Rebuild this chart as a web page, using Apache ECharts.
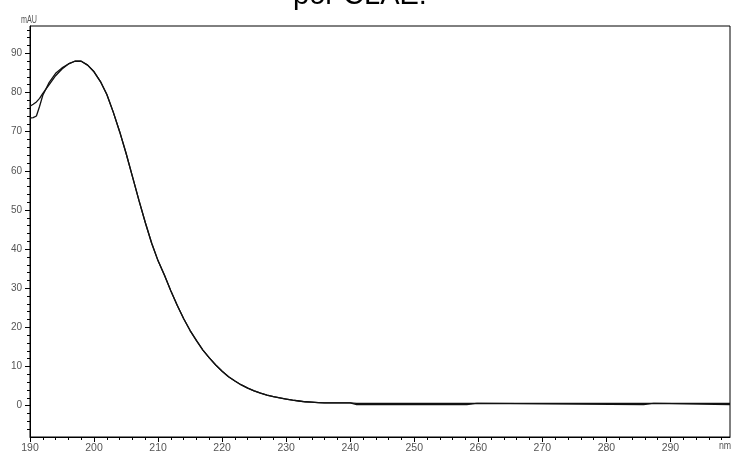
<!DOCTYPE html>
<html>
<head>
<meta charset="utf-8">
<script src="https://cdn.jsdelivr.net/npm/echarts@6/dist/echarts.min.js"></script>
<style>
html,body{margin:0;padding:0;background:#fff;}
#chart{width:733px;height:459px;}
</style>
</head>
<body>
<div id="chart"></div>
<script>
// Wavelengths (nm)
var wl = [190,190.5,191,191.5,192,193,194,195,196,197,198,199,200,201,202,203,204,205,206,207,208,209,210,
  211,212,213,214,215,216,217,218,219,220,221,222,223,224,225,226,227,228,229,230,231,232,233,234,235,236,237,238,239,240,
  241,258.2,258.4,259.8,260,285.8,286,287.4,287.6,299.3];
// Spectrum 1 (upper start)
var absA = [76.5,77.0,77.6,78.5,79.8,82.0,84.3,86.0,87.3,88.0,88.0,87.0,85.3,82.8,79.5,75.0,70.0,64.5,58.5,52.5,46.8,41.5,37.0,
  33.3,29.3,25.6,22.2,19.2,16.6,14.2,12.2,10.4,8.8,7.4,6.3,5.3,4.5,3.8,3.2,2.7,2.3,2.0,1.7,1.4,1.2,1.0,0.9,0.8,0.7,0.7,0.7,0.7,0.7,
  0.6,0.6,0.6,0.6,0.6,0.6,0.6,0.6,0.6,0.6];
// Spectrum 2 (lower start)
var absB = [73.5,73.6,74.0,76.5,79.3,82.6,84.9,86.3,87.3,88.0,88.0,87.0,85.3,82.8,79.5,75.0,70.0,64.5,58.5,52.5,46.8,41.5,37.0,
  33.3,29.3,25.6,22.2,19.2,16.6,14.2,12.2,10.4,8.8,7.4,6.3,5.3,4.5,3.8,3.2,2.7,2.3,2.0,1.7,1.4,1.2,1.0,0.9,0.8,0.7,0.7,0.7,0.7,0.7,
  0.3,0.3,0.6,0.6,0.3,0.3,0.6,0.6,0.3,0.3];
// Tick labels
var xMajor = [190,200,210,220,230,240,250,260,270,280,290];
var xMinor = [192,194,196,198,202,204,206,208,212,214,216,218,222,224,226,228,232,234,236,238,242,244,246,248,252,254,256,258,262,264,266,268,272,274,276,278,282,284,286,288,292,294,296,298];
var yMajor = [0,10,20,30,40,50,60,70,80,90];
var yMinor = [-6,-4,-2,2,4,6,8,12,14,16,18,22,24,26,28,32,34,36,38,42,44,46,48,52,54,56,58,62,64,66,68,72,74,76,78,82,84,86,88,92,94,96];
var titleText = 'por CLAE.';
var yUnit = 'mAU';
var xUnit = 'nm';

function pairs(xs, ys){ return xs.map(function(x,i){ return [x, ys[i]]; }); }

var FONT = "'Liberation Sans',Arial,sans-serif";
var chart = echarts.init(document.getElementById('chart'), null, {renderer:'canvas'});
var X0 = 190, X1 = 299.3, Y0 = -8, Y1 = 97;
var option = {
  animation: false,
  backgroundColor: '#fff',
  grid: {left: 30, right: 3, top: 26, bottom: 22, show: true, borderColor: '#000', borderWidth: 1, backgroundColor: 'transparent'},
  graphic: [
    {type:'text', style:{text: titleText, x: 360, y: 10, textAlign:'center', textVerticalAlign:'bottom', font: "29px 'Liberation Sans', Arial, sans-serif", fill:'#000'}},
    {type:'text', x: 29, y: 19.5, scaleX: 0.65, style:{text: yUnit, x: 0, y: 0, textAlign:'center', textVerticalAlign:'middle', font: "11px " + FONT, fill:'#555'}},
    {type:'text', x: 725, y: 446, scaleX: 0.8, style:{text: xUnit, x: 0, y: 0, textAlign:'center', textVerticalAlign:'middle', font: "11px " + FONT, fill:'#555'}}
  ],
  xAxis: [
    {type:'value', min: X0, max: X1, position:'bottom',
      axisLine:{show:true, onZero:false, lineStyle:{color:'#000', width:1}},
      axisTick:{show:true, length:5, customValues: xMajor, lineStyle:{color:'#000'}},
      axisLabel:{show:true, customValues: xMajor, fontSize:10.5, fontFamily: FONT, color:'#555', margin:6},
      splitLine:{show:false}},
    {type:'value', min: X0, max: X1, position:'bottom',
      axisLine:{show:false, onZero:false},
      axisTick:{show:true, length:3, customValues: xMinor, lineStyle:{color:'#000'}},
      axisLabel:{show:false},
      splitLine:{show:false}}
  ],
  yAxis: [
    {type:'value', min: Y0, max: Y1, position:'left',
      axisLine:{show:true, onZero:false, lineStyle:{color:'#000', width:1}},
      axisTick:{show:true, length:5, customValues: yMajor, lineStyle:{color:'#000'}},
      axisLabel:{show:true, customValues: yMajor, fontSize:10, fontFamily: FONT, color:'#555', margin:8},
      splitLine:{show:false}},
    {type:'value', min: Y0, max: Y1, position:'left',
      axisLine:{show:false, onZero:false},
      axisTick:{show:true, length:3, customValues: yMinor, lineStyle:{color:'#000'}},
      axisLabel:{show:false},
      splitLine:{show:false}}
  ],
  series: [
    {type:'line', xAxisIndex:0, yAxisIndex:0, data: pairs(wl, absA), showSymbol:false, smooth:false,
      lineStyle:{color:'#111', width:1.3}},
    {type:'line', xAxisIndex:0, yAxisIndex:0, data: pairs(wl, absB), showSymbol:false, smooth:false,
      lineStyle:{color:'#111', width:1.3}}
  ]
};
chart.setOption(option);
</script>
</body>
</html>
